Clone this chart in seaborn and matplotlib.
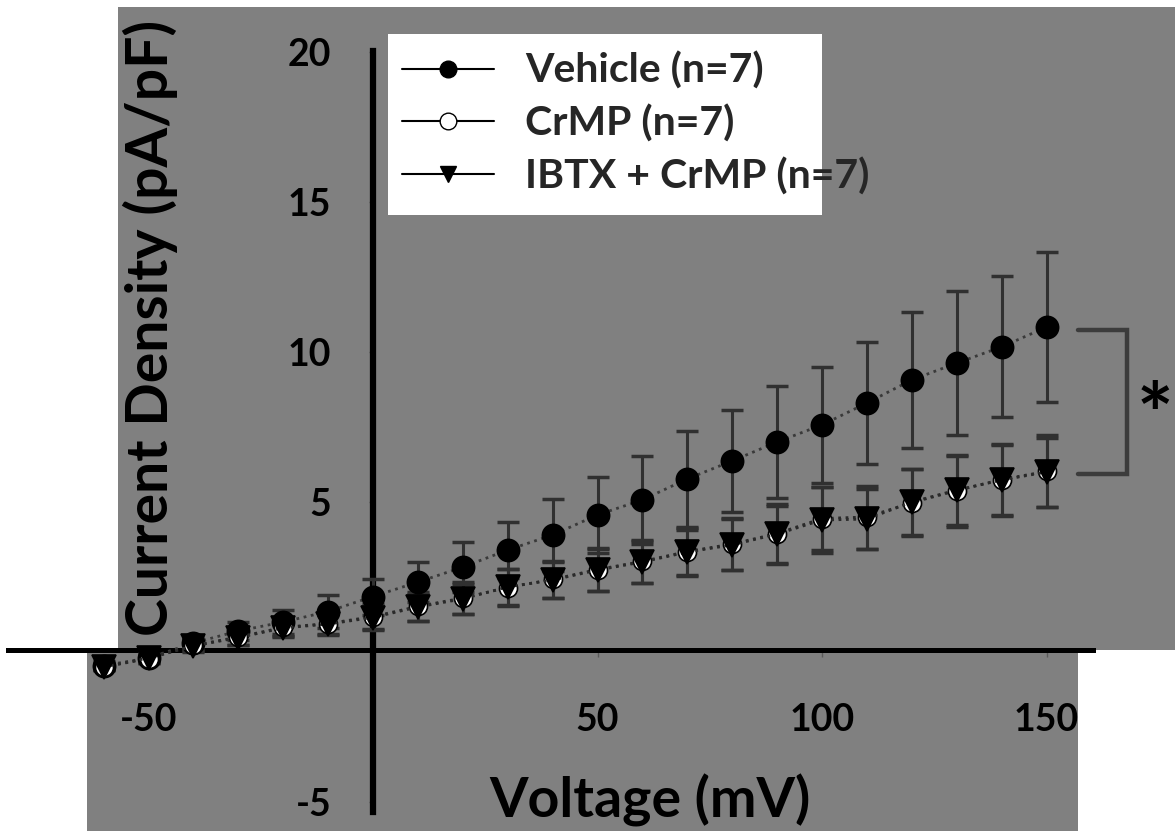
import numpy as np
import pandas as pd
import matplotlib
matplotlib.use("Agg")
import matplotlib.pyplot as plt
import seaborn as sns
from matplotlib.patches import Rectangle
from matplotlib.lines import Line2D

# Step voltages (mV)
voltage = [-60, -50, -40, -30, -20, -10, 0, 10, 20, 30, 40, 50,
           60, 70, 80, 90, 100, 110, 120, 130, 140, 150]

# Mean current density (pA/pF) and SEM per group
vehicle_mean = [-0.45, -0.2, 0.3, 0.7, 1.0, 1.35, 1.85, 2.33, 2.83, 3.4, 3.9, 4.57,
                5.07, 5.77, 6.37, 7.0, 7.57, 8.3, 9.07, 9.63, 10.17, 10.83]
vehicle_sem = [0.15, 0.15, 0.2, 0.3, 0.4, 0.55, 0.6, 0.67, 0.83, 0.93, 1.2, 1.27,
               1.47, 1.6, 1.7, 1.87, 1.93, 2.03, 2.27, 2.4, 2.35, 2.5]

crmp_mean = [-0.5, -0.22, 0.22, 0.5, 0.82, 0.95, 1.18, 1.52, 1.8, 2.15, 2.42, 2.75,
             3.02, 3.35, 3.6, 3.95, 4.45, 4.5, 4.98, 5.38, 5.75, 6.02]
crmp_sem = [0.1, 0.15, 0.2, 0.25, 0.3, 0.35, 0.42, 0.47, 0.52, 0.62, 0.63, 0.72,
            0.72, 0.8, 0.88, 1.0, 1.05, 1.05, 1.12, 1.2, 1.2, 1.2]

ibtx_mean = [-0.5, -0.2, 0.2, 0.48, 0.8, 0.93, 1.15, 1.5, 1.77, 2.17, 2.4, 2.73,
             3.0, 3.33, 3.57, 3.93, 4.4, 4.43, 5.0, 5.4, 5.73, 6.0]
ibtx_sem = [0.1, 0.15, 0.2, 0.25, 0.3, 0.35, 0.4, 0.45, 0.5, 0.6, 0.6, 0.7,
            0.7, 0.75, 0.85, 0.95, 1.1, 1.0, 1.1, 1.15, 1.17, 1.15]

group_labels = ["Vehicle (n=7)", "CrMP (n=7)", "IBTX + CrMP (n=7)"]
x_ticks = [-50, 50, 100, 150]
y_ticks = [-5, 5, 10, 15, 20]

sns.set_theme(style="white")
plt.rcParams["font.family"] = ["Lato", "DejaVu Sans"]
plt.rcParams["font.weight"] = "bold"

W, H = 1175, 831
fig = plt.figure(figsize=(W / 100, H / 100), dpi=100)
fig.patch.set_facecolor("white")

GRAY = "#808080"


def px_rect(x0, y0, x1, y1, color, z):
    return Rectangle((x0 / W, 1 - y1 / H), (x1 - x0) / W, (y1 - y0) / H,
                     transform=fig.transFigure, facecolor=color,
                     edgecolor="none", zorder=z)


# background panels
fig.patches.append(px_rect(118, 7, W, 650, GRAY, -3))
fig.patches.append(px_rect(87, 650, 1078, H, GRAY, -3))
# legend box
fig.patches.append(px_rect(388, 34, 822, 215, "white", -2))

ax = fig.add_axes([0, 0, 1, 1])
ax.set_zorder(1)
ax.set_facecolor("none")
x0_px, x_scale = 373, 4.49
y0_px, y_scale = 652, 30.0
ax.set_xlim(-x0_px / x_scale, (W - x0_px) / x_scale)
ax.set_ylim((y0_px - H) / y_scale, y0_px / y_scale)

df = pd.DataFrame({
    "Voltage": voltage * 3,
    "Current": vehicle_mean + crmp_mean + ibtx_mean,
    "SEM": vehicle_sem + crmp_sem + ibtx_sem,
    "Group": np.repeat(group_labels, len(voltage)),
})

styles = {
    group_labels[0]: dict(marker="o", markerfacecolor="black", markeredgecolor="black",
                          color="#3a3a3a", markersize=16),
    group_labels[1]: dict(marker="o", markerfacecolor="white", markeredgecolor="black",
                          color="#2a2a2a", markersize=13),
    group_labels[2]: dict(marker="v", markerfacecolor="black", markeredgecolor="black",
                          color="#2a2a2a", markersize=17),
}

for i, g in enumerate(group_labels):
    sub = df[df["Group"] == g]
    ax.errorbar(sub["Voltage"], sub["Current"], yerr=sub["SEM"], fmt="none",
                ecolor="#303030", elinewidth=2.2, capsize=8, capthick=2.5,
                zorder=3 + i)

for i, g in enumerate(group_labels):
    sub = df[df["Group"] == g]
    st = styles[g]
    sns.lineplot(data=sub, x="Voltage", y="Current", ax=ax, linestyle=":",
                 linewidth=2, color=st["color"], marker=st["marker"],
                 markersize=st["markersize"], markerfacecolor=st["markerfacecolor"],
                 markeredgecolor=st["markeredgecolor"], markeredgewidth=1.2,
                 zorder=6 + i, legend=False)

# axes through the origin
for s in ["top", "right"]:
    ax.spines[s].set_visible(False)
ax.spines["left"].set_position(("data", 0))
ax.spines["left"].set_bounds(-5.33, 20.05)
ax.spines["left"].set_linewidth(4.5)
ax.spines["left"].set_color("black")
ax.spines["bottom"].set_position(("data", 0.07))
ax.spines["bottom"].set_bounds(-81.3, 160.4)
ax.spines["bottom"].set_linewidth(3.6)
ax.spines["bottom"].set_color("black")
ax.set_xticks(x_ticks)
ax.set_yticks(y_ticks)
ax.set_xticklabels([str(v) for v in x_ticks])
ax.set_yticklabels([str(v) for v in y_ticks])
ax.tick_params(axis="x", direction="out", length=5, width=1, color="#5a5a5a",
               pad=33, labelsize=27, labelcolor="black", bottom=True)
ax.tick_params(axis="y", direction="out", length=3, width=1, color="#5a5a5a",
               pad=27, labelsize=27, labelcolor="black", left=True)
ax.set_xlabel("")
ax.set_ylabel("")

# significance bracket between the two end points
xb0, xb1 = 157.0, 168.0
ax.plot([xb0, xb1, xb1, xb0], [vehicle_mean[-1] - 0.1, vehicle_mean[-1] - 0.1,
                               ibtx_mean[-1] - 0.05, ibtx_mean[-1] - 0.05],
        color="#3c3c3c", linewidth=3.2, solid_joinstyle="miter", zorder=5)
ax.text(174.2, 6.9, "*", fontsize=62, ha="center", va="baseline", color="black")

# axis titles
fig.text(150 / W, 1 - 328 / H, "Current Density (pA/pF)", rotation=90,
         ha="center", va="center", fontsize=41, color="black")
fig.text(650 / W, 1 - 800 / H, "Voltage (mV)", ha="center", va="center",
         fontsize=40, color="black")

handles = [
    Line2D([0], [0], color="black", linewidth=1.5, marker="o", markersize=12,
           markerfacecolor="black", markeredgecolor="black"),
    Line2D([0], [0], color="black", linewidth=1.5, marker="o", markersize=12,
           markerfacecolor="white", markeredgecolor="black"),
    Line2D([0], [0], color="black", linewidth=1.5, marker="v", markersize=12,
           markerfacecolor="black", markeredgecolor="black"),
]
leg = ax.legend(handles, group_labels, loc="upper left",
                bbox_to_anchor=(402 / W, 1 - 52 / H), bbox_transform=fig.transFigure,
                frameon=False, fontsize=29.5, handlelength=2.25, handletextpad=0.75,
                labelspacing=0.36, borderpad=0, borderaxespad=0)
leg.set_zorder(20)

fig.savefig("out.png", dpi=100, facecolor="white")
